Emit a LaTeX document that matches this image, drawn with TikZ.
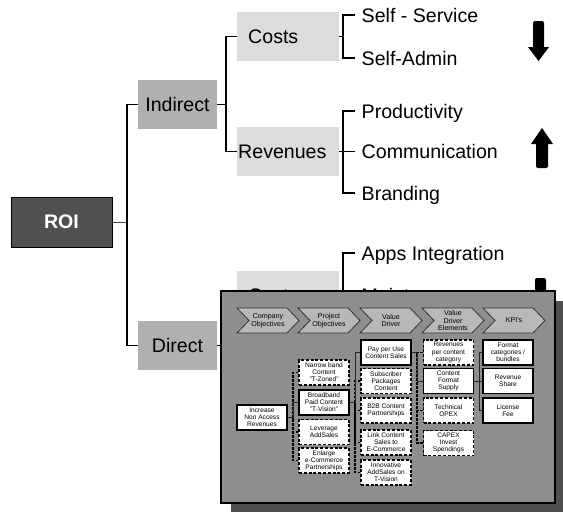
\documentclass[tikz,border=0pt]{standalone}
\usepackage{fontspec}
\setmainfont{Liberation Sans}
\usetikzlibrary{calc}
\definecolor{roifill}{HTML}{505050}
\definecolor{lvlone}{HTML}{B0B0B0}
\definecolor{lvltwo}{HTML}{DCDCDC}
\definecolor{panelfill}{HTML}{8E8E8E}
\definecolor{panelshadow}{HTML}{4E4E4E}
\definecolor{chevfill}{HTML}{B8B8B8}

\begin{document}
\begin{tikzpicture}[x=1pt,y=-1pt,
  bigfont/.style={font=\fontsize{19.6}{23}\selectfont},
  roibox/.style={font=\fontsize{19.6}{23}\selectfont\bfseries, fill=roifill, draw=black, line width=0.8pt, text=white, minimum width=101pt, minimum height=50pt, inner sep=0pt},
  lvlbox/.style={bigfont, fill=lvlone, minimum width=79pt, minimum height=49pt, inner sep=0pt},
  subbox/.style={bigfont, fill=lvltwo, minimum height=49pt, text width=80pt, inner xsep=11pt, inner ysep=0pt, align=left, anchor=west},
  item/.style={bigfont, anchor=west, inner xsep=6.5pt, inner ysep=1pt, text height=14pt, text depth=0pt},
  conn/.style={line width=1.8pt, black},
  thinconn/.style={line width=1pt, black!75},
  chevron/.style={fill=chevfill, draw=black!80, line width=0.8pt},
  chevtext/.style={font=\fontsize{7.1}{7.6}\selectfont, align=center, inner sep=0pt},
  pbox/.style={draw=black, line width=1.3pt, fill=white, minimum width=50pt, minimum height=25pt, inner sep=0pt, align=center, font=\fontsize{6.6}{7.1}\selectfont},
  pdash/.style={pbox, dash pattern=on 3pt off 1.8pt, line width=1.5pt},
  plink/.style={line width=0.9pt, black!85},
  pdlink/.style={line width=1.3pt, dash pattern=on 2.5pt off 1.5pt, black}
]
\useasboundingbox (0,0) rectangle (563,512);

% ---------- ROI tree ----------
\node[roibox] (roi) at (61.5,222) {ROI};
\node[lvlbox] (indirect) at (177.5,104.5) {Indirect};
\node[lvlbox] (direct) at (177.5,345.5) {Direct};
\node[subbox] (icosts) at (237,36.5) {Costs};
\node[subbox, inner xsep=1pt, text width=100pt] (irev) at (237,151.5) {Revenues};
\node[subbox] (dcosts) at (237,295.5) {Costs};

\node[item] (selfserv) at (355,15) {Self - Service};
\node[item] (selfadmin) at (355,58) {Self-Admin};
\node[item] (prod) at (355,111) {Productivity};
\node[item] (comm) at (355,151.5) {Communication};
\node[item] (brand) at (355,193) {Branding};
\node[item] (apps) at (355,253) {Apps Integration};
\node[item] (maint) at (355,295.5) {Maintenance};

\coordinate (jroot) at (127,222);
\coordinate (jind) at (226,104.5);
\coordinate (jdir) at (226,345.5);
\coordinate (jicost) at (343,36.5);
\coordinate (jirev) at (343,151.5);
\coordinate (jdcost) at (343,295.5);

\draw[thinconn] (roi.east) -- (jroot);
\draw[conn] (indirect.west) -| (jroot);
\draw[conn] (direct.west) -| (jroot);
\draw[conn] (indirect.east) -- (jind);
\draw[conn] (icosts.west) -| (jind);
\draw[conn] (irev.west) -| (jind);
\draw[conn] (direct.east) -- (jdir);
\draw[conn] (dcosts.west) -| (jdir);
\draw[conn] (icosts.east) -- (jicost);
\draw[conn] (selfserv.west) -| (jicost);
\draw[conn] (selfadmin.west) -| (jicost);
\draw[conn] (irev.east) -- (comm.west);
\draw[conn] (prod.west) -| (jirev);
\draw[conn] (brand.west) -| (jirev);
\draw[conn] (dcosts.east) -- (maint.west);
\draw[conn] (apps.west) -| (jdcost);

% trend arrows
\fill[black] (533,47) [rounded corners=2pt] -- (533,21) -- (544,21) [sharp corners] -- (544,47)
  -- (549,47) -- (538.5,61) -- (528,47) -- cycle;
\fill[black] (536,144) -- (531,144) -- (542,128) -- (553,144) -- (548,144)
  [rounded corners=2pt] -- (548,168) -- (536,168) [sharp corners] -- cycle;
\fill[black] (535,300) [rounded corners=2pt] -- (535,278) -- (546,278) [sharp corners] -- (546,300) -- cycle;

% ---------- value driver panel ----------
\fill[panelshadow] (231,301) rectangle (566,515);
\node[draw=black, line width=2.2pt, fill=panelfill, minimum width=334pt, minimum height=212pt, inner sep=0pt] (panel) at (388,397) {};

\foreach \L/\nm/\txt in {237/ch1/{Company\\Objectives}, 298/ch2/{Project\\Objectives}, 360/ch3/{Value\\Driver}, 422/ch4/{Value\\Driver\\Elements}, 483/ch5/{KPI's}} {
  \filldraw[chevron] (\L,308) -- ++(50,0) -- ++(12,12.5) -- ++(-12,12.5) -- ++(-50,0) -- ++(12,-12.5) -- cycle;
  \node[chevtext] (\nm) at (\L+31,320.5) {\txt};
}

% company objective
\node[pbox] (increase) at (262,417.5) {Increase\\Non Access\\Revenues};
% project objectives
\node[pdash] (narrow) at (324,372.5) {Narrow band\\Content\\"T-Zoned"};
\node[pbox] (broad) at (324,402.5) {Broadband\\Paid Content\\"T-Vision"};
\node[pdash] (leverage) at (324,432) {Leverage\\AddSales};
\node[pdash] (enlarge) at (324,460.5) {Enlarge\\e-Commerce\\Partnerships};
% value drivers
\node[pbox] (payuse) at (386,352.5) {Pay per Use\\Content Sales};
\node[pdash] (subscr) at (386,381) {Subscriber\\Packages\\Content};
\node[pdash] (btob) at (386,410.5) {B2B Content\\Partnerships};
\node[pdash] (link) at (386,442.5) {Link Content\\Sales to\\E-Commerce};
\node[pdash] (innov) at (386,472.5) {Innovative\\AddSales on\\T-Vision};
% value driver elements
\node[pdash] (revcat) at (448.5,352.5) {Revenues\\per content\\category};
\node[pbox] (cfs) at (448.5,381) {Content\\Format\\Supply};
\node[pdash] (opex) at (448.5,410.5) {Technical\\OPEX};
\node[pdash] (capex) at (448.5,443) {CAPEX\\Invest\\Spendings};
% KPIs
\node[pbox] (format) at (508,352.5) {Format\\categories /\\bundles};
\node[pbox] (share) at (508,381) {Revenue\\Share};
\node[pbox] (licfee) at (508,410.5) {License\\Fee};

\coordinate (ja) at (293,417.5);
\coordinate (jb) at (355,402.5);
\coordinate (jc) at (417,352.5);
\coordinate (jd) at (479,381);

\draw[pdlink] (narrow.west) -| (ja);
\draw[pdlink] (leverage.west) -| (ja);
\draw[pdlink] (enlarge.west) -| (ja);
\draw[plink] (increase.east) -- (ja);
\draw[plink] (broad.west) -| (ja);

\draw[pdlink] (subscr.west) -| (jb);
\draw[pdlink] (btob.west) -| (jb);
\draw[pdlink] (link.west) -| (jb);
\draw[pdlink] (innov.west) -| (jb);
\draw[plink] (broad.east) -- (jb);
\draw[plink] (payuse.west) -| (jb);

\draw[pdlink] (revcat.west) -| (jc);
\draw[pdlink] (opex.west) -| (jc);
\draw[pdlink] (capex.west) -| (jc);
\draw[plink] (payuse.east) -- (jc);
\draw[plink] (cfs.west) -| (jc);

\draw[plink] (cfs.east) -- (jd);
\draw[plink] (format.west) -| (jd);
\draw[plink] (share.west) -- (jd);
\draw[plink] (licfee.west) -| (jd);
\end{tikzpicture}
\end{document}
